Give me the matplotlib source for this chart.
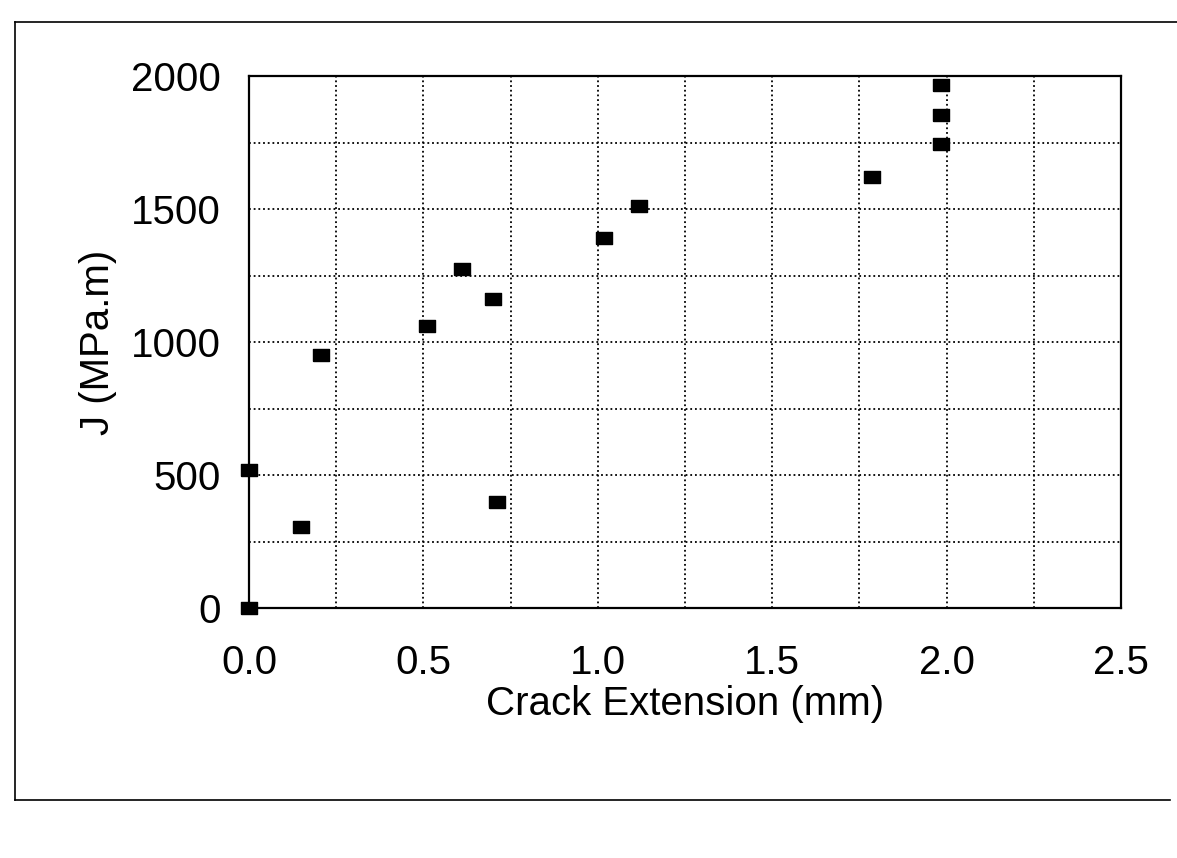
import matplotlib
matplotlib.use("Agg")
import matplotlib.pyplot as plt
from matplotlib.lines import Line2D

matplotlib.rcParams["font.family"] = ["Liberation Sans", "DejaVu Sans"]
matplotlib.rcParams["font.size"] = 29

# J-R curve test points
crack_ext = [0.0, 0.0, 0.15, 0.205, 0.51, 0.61, 0.70, 0.71, 1.017, 1.117, 1.786, 1.983, 1.983, 1.985]
j_value = [0, 520, 305, 950, 1060, 1275, 1160, 400, 1390, 1510, 1620, 1745, 1855, 1965]

x_ticks = [0.0, 0.5, 1.0, 1.5, 2.0, 2.5]
x_grid = [0.25, 0.5, 0.75, 1.0, 1.25, 1.5, 1.75, 2.0, 2.25]
y_ticks = [0, 500, 1000, 1500, 2000]
y_grid = [250, 500, 750, 1000, 1250, 1500, 1750]

fig = plt.figure(figsize=(11.77, 8.58), dpi=100)
ax = fig.add_axes([249 / 1177, 1 - 608 / 858, 872 / 1177, 532 / 858])

for gx in x_grid:
    ax.axvline(gx, color="black", lw=1.3, ls=(0, (1, 1.6)), zorder=1)
for gy in y_grid:
    ax.axhline(gy, color="black", lw=1.3, ls=(0, (1, 1.6)), zorder=1)

# wide square markers, like the scanned ones
rect = [(-1.5, -1.0), (1.5, -1.0), (1.5, 1.0), (-1.5, 1.0), (-1.5, -1.0)]
ax.plot(crack_ext, j_value, ls="none", marker=rect, ms=12, color="black",
        clip_on=False, zorder=5)

ax.set_xlim(0, 2.5)
ax.set_ylim(0, 2000)
ax.set_xticks(x_ticks)
ax.set_xticklabels(["%.1f" % t for t in x_ticks])
ax.set_yticks(y_ticks)
ax.tick_params(length=0)
ax.tick_params(axis="x", pad=26)
ax.tick_params(axis="y", pad=20)
for s in ax.spines.values():
    s.set_linewidth(1.6)
    s.set_color("black")

ax.set_xlabel("Crack Extension (mm)", fontsize=29, labelpad=2)
ax.set_ylabel("J (MPa.m)", fontsize=29, labelpad=10)

# outer border of the scanned page
fig.add_artist(Line2D([15 / 1177, 1.0], [1 - 22 / 858, 1 - 22 / 858],
                      transform=fig.transFigure, color="black", lw=1.2))
fig.add_artist(Line2D([15 / 1177, 15 / 1177], [1 - 22 / 858, 1 - 800 / 858],
                      transform=fig.transFigure, color="black", lw=1.2))
fig.add_artist(Line2D([15 / 1177, 1170 / 1177], [1 - 800 / 858, 1 - 800 / 858],
                      transform=fig.transFigure, color="black", lw=1.2))

fig.savefig("out.png", dpi=100)
